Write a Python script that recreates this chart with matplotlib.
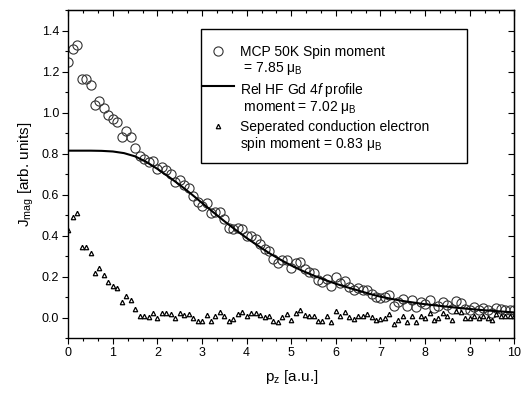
import matplotlib
matplotlib.use("Agg")
import matplotlib.pyplot as plt
from matplotlib.ticker import MultipleLocator, FormatStrFormatter
from matplotlib.patches import Rectangle

plt.rcParams['font.family'] = ['Liberation Sans', 'DejaVu Sans']
plt.rcParams['mathtext.fontset'] = 'custom'
plt.rcParams['mathtext.rm'] = 'Liberation Sans'
plt.rcParams['mathtext.it'] = 'Liberation Sans:italic'
plt.rcParams['mathtext.default'] = 'regular'

# ---------------- data ----------------
pz = [round(0.1 * i, 1) for i in range(101)]

mcp_50k = [
    1.246, 1.309, 1.329, 1.163, 1.163, 1.135, 1.036, 1.059, 1.024, 0.987,
    0.968, 0.953, 0.880, 0.909, 0.880, 0.829, 0.789, 0.775, 0.758, 0.765,
    0.726, 0.736, 0.721, 0.700, 0.664, 0.673, 0.647, 0.631, 0.596, 0.564,
    0.546, 0.558, 0.510, 0.514, 0.516, 0.482, 0.440, 0.433, 0.438, 0.435,
    0.398, 0.398, 0.383, 0.358, 0.335, 0.326, 0.288, 0.269, 0.283, 0.283,
    0.244, 0.269, 0.273, 0.237, 0.225, 0.216, 0.182, 0.173, 0.191, 0.153,
    0.200, 0.169, 0.178, 0.151, 0.134, 0.143, 0.137, 0.137, 0.116, 0.099,
    0.095, 0.099, 0.111, 0.058, 0.076, 0.092, 0.058, 0.086, 0.052, 0.079,
    0.066, 0.085, 0.050, 0.059, 0.077, 0.064, 0.042, 0.083, 0.073, 0.045,
    0.040, 0.051, 0.039, 0.047, 0.036, 0.024, 0.049, 0.041, 0.039, 0.038,
    0.036,
]

conduction = [
    0.428, 0.493, 0.512, 0.346, 0.346, 0.317, 0.218, 0.241, 0.207, 0.173,
    0.156, 0.145, 0.075, 0.107, 0.086, 0.044, 0.008, 0.010, 0.005, 0.025,
    0.000, 0.025, 0.025, 0.020, 0.000, 0.025, 0.016, 0.017, 0.000, -0.014,
    -0.014, 0.016, -0.014, 0.008, 0.027, 0.011, -0.014, -0.004, 0.017, 0.030,
    0.009, 0.024, 0.024, 0.013, 0.005, 0.010, -0.015, -0.021, 0.005, 0.017,
    -0.011, 0.024, 0.039, 0.013, 0.010, 0.010, -0.016, -0.016, 0.010, -0.021,
    0.034, 0.010, 0.026, 0.005, -0.005, 0.010, 0.010, 0.017, 0.002, -0.010,
    -0.008, 0.000, 0.017, -0.032, -0.010, 0.010, -0.021, 0.010, -0.021, 0.010,
    0.000, 0.021, -0.011, 0.000, 0.021, 0.010, -0.010, 0.034, 0.026, 0.000,
    -0.003, 0.010, 0.000, 0.010, 0.000, -0.010, 0.017, 0.010, 0.010, 0.010,
    0.010,
]

pz_hf = [round(0.25 * i, 2) for i in range(41)]
hf_4f = [
    0.815, 0.815, 0.815, 0.814, 0.811, 0.803, 0.787, 0.760, 0.726, 0.688,
    0.648, 0.605, 0.560, 0.515, 0.471, 0.429, 0.389, 0.352, 0.316, 0.284,
    0.255, 0.229, 0.206, 0.185, 0.166, 0.149, 0.133, 0.117, 0.103, 0.092,
    0.082, 0.074, 0.066, 0.060, 0.054, 0.048, 0.043, 0.038, 0.034, 0.030,
    0.026,
]

labels = [
    "MCP 50K Spin moment\n = 7.85 μ$_B$",
    "Rel HF Gd 4$\\mathit{f}$ profile\n moment = 7.02 μ$_B$",
    "Seperated conduction electron\nspin moment = 0.83 μ$_B$",
]
xticks = list(range(0, 11))
yticks = [0.0, 0.2, 0.4, 0.6, 0.8, 1.0, 1.2, 1.4]

# ---------------- figure ----------------
fig = plt.figure(figsize=(5.22, 3.94), dpi=100)
ax = fig.add_axes([0.1308, 0.1414, 0.8544, 0.8327])

h1, = ax.plot(pz, mcp_50k, linestyle='none', marker='o', markersize=6.6,
              markerfacecolor='none', markeredgecolor='#333333',
              markeredgewidth=0.8)
h2, = ax.plot(pz_hf, hf_4f, color='black', linewidth=1.5)
h3, = ax.plot(pz, conduction, linestyle='none', marker='^', markersize=3.2,
              markerfacecolor='white', markeredgecolor='black',
              markeredgewidth=0.9)

ax.set_xlim(0, 10)
ax.set_ylim(-0.1, 1.5)
ax.set_xticks(xticks)
ax.set_yticks(yticks)
ax.xaxis.set_minor_locator(MultipleLocator(1 / 3))
ax.yaxis.set_minor_locator(MultipleLocator(0.1))
ax.yaxis.set_major_formatter(FormatStrFormatter('%.1f'))
ax.tick_params(which='both', direction='out', labelsize=9, width=0.8,
               pad=2)
ax.tick_params(which='major', length=4.5)
ax.tick_params(which='minor', length=2.5)
for s in ax.spines.values():
    s.set_linewidth(1.0)

secx = ax.secondary_xaxis('top')
secx.set_xticks(xticks)
secx.xaxis.set_minor_locator(MultipleLocator(1 / 3))
secx.tick_params(which='both', direction='in', labeltop=False, width=0.8)
secx.tick_params(which='major', length=4.5)
secx.tick_params(which='minor', length=2.5)
secy = ax.secondary_yaxis('right')
secy.set_yticks(yticks)
secy.yaxis.set_minor_locator(MultipleLocator(0.1))
secy.tick_params(which='both', direction='in', labelright=False, width=0.8)
secy.tick_params(which='major', length=4.5)
secy.tick_params(which='minor', length=2.5)

ax.set_xlabel("p$_z$ [a.u.]", fontsize=11, labelpad=6)
ax.set_ylabel("J$_{mag}$ [arb. units]", fontsize=11, labelpad=4)

# legend frame + legend
ax.add_patch(Rectangle((0.297, 0.533), 0.598, 0.409, transform=ax.transAxes,
                       fill=False, edgecolor='black', linewidth=1.0,
                       zorder=5))
leg = ax.legend([h1, h2, h3], labels, loc='upper left',
                bbox_to_anchor=(0.2998, 0.893), borderaxespad=0, borderpad=0,
                frameon=False, fontsize=10, handlelength=2.3,
                handleheight=1.0, handletextpad=0.45, labelspacing=0.3)
for t in leg.get_texts():
    t.set_linespacing(1.03)
for col in leg._legend_handle_box.get_children():
    for item in col.get_children():
        item.align = 'top'

fig.savefig("out.png", dpi=100)
